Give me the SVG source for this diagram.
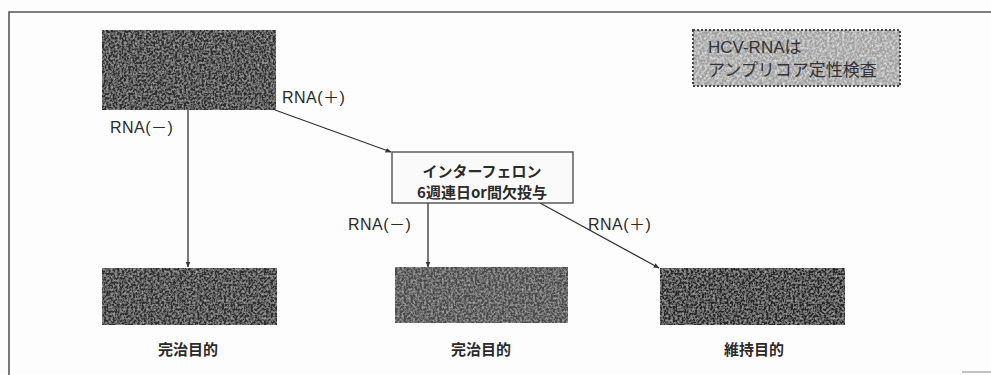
<svg xmlns="http://www.w3.org/2000/svg" width="991" height="375" viewBox="0 0 991 375">
<style>
.lbl{font-family:"Liberation Sans","Noto Sans CJK JP",sans-serif;font-size:16px;fill:#2a2a2a;letter-spacing:0.5px}
.jp{font-family:"Noto Sans CJK JP",sans-serif;font-size:15px;fill:#2a2a2a;font-weight:bold}
.frame{stroke:#555;stroke-width:1.6;fill:none}
.conn{stroke:#333;stroke-width:1.3;fill:none;marker-end:url(#ah)}
.dark{fill:#2e2e2e;filter:url(#speck)}
</style>
<defs>
<marker id="ah" viewBox="0 0 10 10" refX="9" refY="5" markerWidth="6" markerHeight="6" orient="auto" markerUnits="userSpaceOnUse">
<path d="M0,1 L10,5 L0,9 z" fill="#333"/>
</marker>
<filter id="speck" x="0" y="0" width="1" height="1">
<feTurbulence type="fractalNoise" baseFrequency="0.45" numOctaves="2" seed="4" result="n"/>
<feColorMatrix in="n" type="matrix" values="0 0 0 0 0.6  0 0 0 0 0.6  0 0 0 0 0.6  1.3 0 0 0 -0.5" result="w"/>
<feComposite in="w" in2="SourceGraphic" operator="in" result="ws"/>
<feMerge><feMergeNode in="SourceGraphic"/><feMergeNode in="ws"/></feMerge>
</filter>
<filter id="speck2" x="0" y="0" width="1" height="1">
<feTurbulence type="fractalNoise" baseFrequency="0.4" numOctaves="2" seed="9" result="n"/>
<feColorMatrix in="n" type="matrix" values="0 0 0 0 0.9  0 0 0 0 0.9  0 0 0 0 0.9  1.6 0 0 0 -0.6" result="w"/>
<feComposite in="w" in2="SourceGraphic" operator="in" result="ws"/>
<feMerge><feMergeNode in="SourceGraphic"/><feMergeNode in="ws"/></feMerge>
</filter>
</defs>
<rect width="991" height="375" fill="#fdfdfd"/>
<g id="frame">
<path class="frame" d="M9,375 L9,12 L991,12"/>
<path stroke="#888" stroke-width="1" d="M962,372 L991,372"/>
</g>
<g id="connectors">
<line class="conn" x1="188" y1="110" x2="188" y2="267"/>
<line class="conn" x1="275" y1="110" x2="391" y2="152"/>
<line class="conn" x1="428" y1="203" x2="428" y2="267"/>
<line class="conn" x1="540" y1="203" x2="659" y2="268"/>
</g>
<g id="labels">
<text class="lbl" x="110" y="133">RNA(－)</text>
<text class="lbl" x="282" y="103">RNA(＋)</text>
<text class="lbl" x="348" y="230">RNA(－)</text>
<text class="lbl" x="588" y="230">RNA(＋)</text>
</g>
<g id="start">
<rect class="dark" x="102" y="30" width="174" height="80"/>
</g>
<g id="interferon">
<rect x="392" y="152" width="181" height="51" fill="#fafafa" stroke="#444" stroke-width="1.3"/>
<text class="jp" x="482" y="177" text-anchor="middle">インターフェロン</text>
<text class="jp" x="482" y="198" text-anchor="middle">6週連日or間欠投与</text>
</g>
<g id="cure1">
<rect class="dark" x="102" y="268" width="175" height="57"/>
<text class="jp" x="188" y="355" text-anchor="middle" font-size="16">完治目的</text>
</g>
<g id="cure2">
<rect x="395" y="267" width="173" height="56" fill="#484848" filter="url(#speck)"/>
<text class="jp" x="481" y="355" text-anchor="middle" font-size="16">完治目的</text>
</g>
<g id="maintain">
<rect x="660" y="268" width="185" height="57" fill="#262626" filter="url(#speck)"/>
<text class="jp" x="754" y="355" text-anchor="middle" font-size="16">維持目的</text>
</g>
<g id="note">
<rect x="693" y="30" width="207" height="56" fill="#a0a0a0" filter="url(#speck2)"/>
<rect x="693" y="30" width="207" height="56" fill="none" stroke="#444" stroke-width="2" stroke-dasharray="2 2"/>
<text x="708" y="53" font-family="Liberation Sans,Noto Sans CJK JP,sans-serif" font-size="17" fill="#333">HCV-RNAは</text>
<text x="708" y="76" font-family="Noto Sans CJK JP,sans-serif" font-size="17" fill="#333">アンプリコア定性検査</text>
</g>
</svg>
